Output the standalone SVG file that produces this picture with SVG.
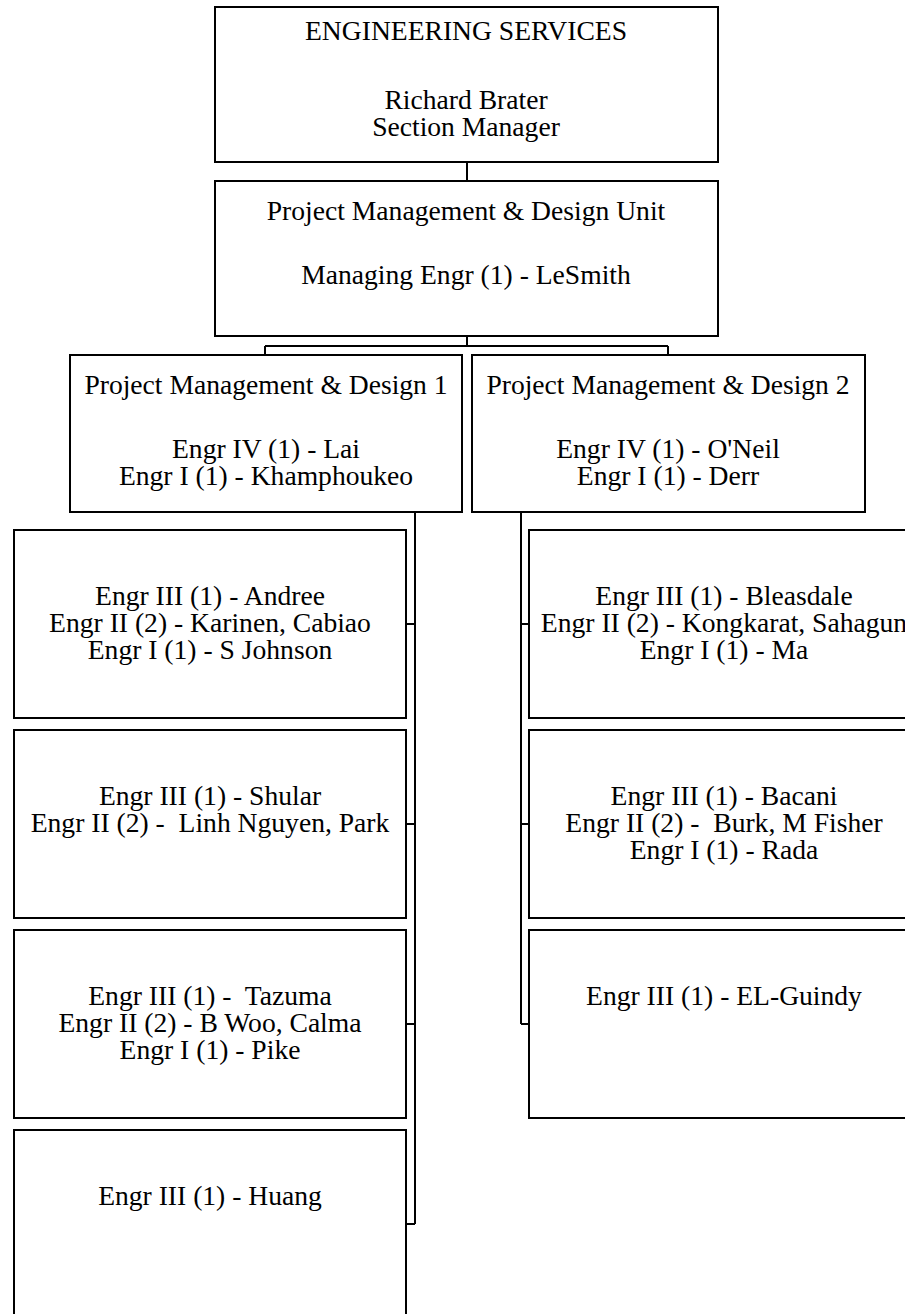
<svg xmlns="http://www.w3.org/2000/svg" width="905" height="1314" viewBox="0 0 905 1314" font-family="Liberation Serif, Tinos, Times New Roman, Nimbus Roman, Noto Serif, DejaVu Serif, serif">
<style>
.box{fill:#fff;stroke:#000;stroke-width:2}
.ln{fill:none;stroke:#000;stroke-width:2}
.t{font-size:27.6px;fill:#000;text-anchor:middle}
</style>
<rect width="905" height="1314" fill="#fff"/>
<g id="connectors">
<path class="ln" d="M467 162V181"/>
<path class="ln" d="M467 336V346M265 346H668M265 346V355M668 346V355"/>
<path class="ln" d="M415 512V1224M406 624H415M406 824H415M406 1024H415M406 1224H415"/>
<path class="ln" d="M521 512V1024M521 624H529M521 824H529M521 1024H529"/>
</g>
<g id="engineering-services">
<rect class="box" x="215" y="7" width="503" height="155"/>
<text class="t" x="466" y="40">ENGINEERING SERVICES</text>
<text class="t" x="466" y="109">Richard Brater</text>
<text class="t" x="466" y="136">Section Manager</text>
</g>
<g id="pmd-unit">
<rect class="box" x="215" y="181" width="503" height="155"/>
<text class="t" x="466" y="220">Project Management &amp; Design Unit</text>
<text class="t" x="466" y="284">Managing Engr (1) - LeSmith</text>
</g>
<g id="pmd1">
<rect class="box" x="70" y="355" width="392" height="157"/>
<text class="t" x="266" y="394">Project Management &amp; Design 1</text>
<text class="t" x="266" y="458">Engr IV (1) - Lai</text>
<text class="t" x="266" y="485">Engr I (1) - Khamphoukeo</text>
</g>
<g id="pmd2">
<rect class="box" x="472" y="355" width="393" height="157"/>
<text class="t" x="668" y="394">Project Management &amp; Design 2</text>
<text class="t" x="668" y="458">Engr IV (1) - O'Neil</text>
<text class="t" x="668" y="485">Engr I (1) - Derr</text>
</g>
<g id="andree">
<rect class="box" x="14" y="530" width="392" height="188"/>
<text class="t" x="210" y="605">Engr III (1) - Andree</text>
<text class="t" x="210" y="632">Engr II (2) - Karinen, Cabiao</text>
<text class="t" x="210" y="659">Engr I (1) - S Johnson</text>
</g>
<g id="shular">
<rect class="box" x="14" y="730" width="392" height="188"/>
<text class="t" x="210" y="805">Engr III (1) - Shular</text>
<text class="t" x="210" y="832" xml:space="preserve">Engr II (2) -  Linh Nguyen, Park</text>
</g>
<g id="tazuma">
<rect class="box" x="14" y="930" width="392" height="188"/>
<text class="t" x="210" y="1005" xml:space="preserve">Engr III (1) -  Tazuma</text>
<text class="t" x="210" y="1032">Engr II (2) - B Woo, Calma</text>
<text class="t" x="210" y="1059">Engr I (1) - Pike</text>
</g>
<g id="huang">
<rect class="box" x="14" y="1130" width="392" height="190"/>
<text class="t" x="210" y="1205">Engr III (1) - Huang</text>
</g>
<g id="bleasdale">
<rect class="box" x="529" y="530" width="392" height="188"/>
<text class="t" x="724" y="605">Engr III (1) - Bleasdale</text>
<text class="t" x="724" y="632">Engr II (2) - Kongkarat, Sahagun</text>
<text class="t" x="724" y="659">Engr I (1) - Ma</text>
</g>
<g id="bacani">
<rect class="box" x="529" y="730" width="392" height="188"/>
<text class="t" x="724" y="805">Engr III (1) - Bacani</text>
<text class="t" x="724" y="832" xml:space="preserve">Engr II (2) -  Burk, M Fisher</text>
<text class="t" x="724" y="859">Engr I (1) - Rada</text>
</g>
<g id="el-guindy">
<rect class="box" x="529" y="930" width="392" height="188"/>
<text class="t" x="724" y="1005">Engr III (1) - EL-Guindy</text>
</g>
</svg>
